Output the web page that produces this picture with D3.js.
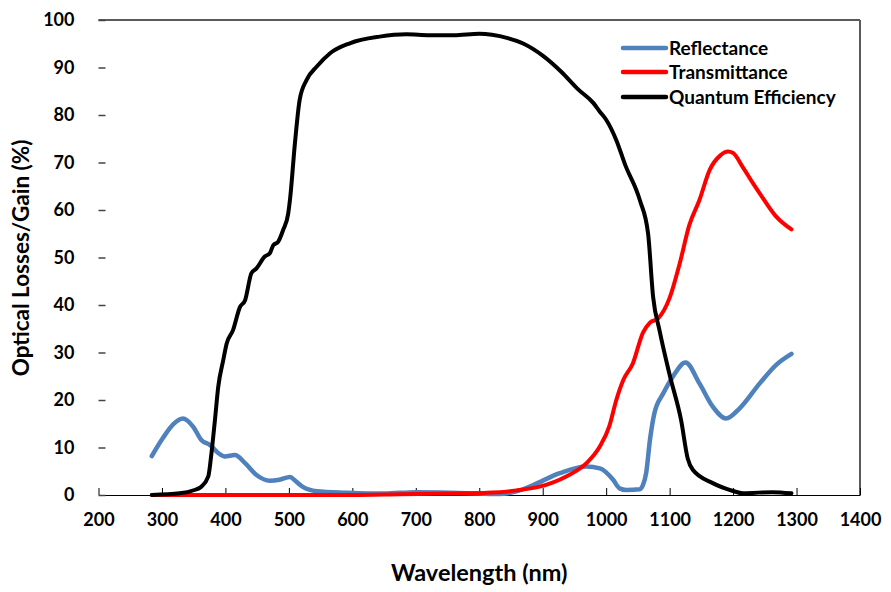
<!DOCTYPE html>
<html><head><meta charset="utf-8">
<script src="https://cdn.jsdelivr.net/npm/d3@7"></script>
<style>body{margin:0;background:#fff}svg{display:block}text{font-family:Lato,"Open Sans",sans-serif;font-weight:bold;fill:#000}</style>
</head><body>
<svg id="c" width="891" height="592"></svg>
<script>
const xTicks=[200,300,400,500,600,700,800,900,1000,1100,1200,1300,1400];
const yTicks=[0,10,20,30,40,50,60,70,80,90,100];
const seriesNames=["Reflectance","Transmittance","Quantum Efficiency"];
const seriesColors=["#4F81BD","#FF0000","#000000"];

const reflWl=[284,302,318,333,349,362,376,389,399,415,431,449,470,485,502,510,522,544,591,650,701,753,800,832,860,885,927,969,990,1011,1021,1032,1053,1058,1063,1069,1076,1090,1105,1125,1147,1168,1189,1210,1242,1268,1292];
const reflVal=[8.2,12.1,14.9,16.1,14.4,11.6,10.5,8.8,8.1,8.4,6.7,4.2,3.0,3.2,3.8,3.0,1.7,0.8,0.5,0.3,0.6,0.5,0.3,0.2,0.8,2.1,4.6,6.0,5.6,3.2,1.4,1.05,1.2,2.1,4.6,11.6,17.2,21.4,24.9,27.9,23.5,18.6,16.1,18.2,23.5,27.4,29.7];

const transWl=[284,400,500,600,675,750,832,860,895,937,969,990,1005,1016,1027,1042,1058,1069,1082,1100,1116,1131,1147,1163,1180,1192,1200,1215,1232,1247,1268,1292];
const transVal=[0,0,0,0,0.15,0.3,0.6,1.0,1.75,3.9,6.7,10.2,14.5,20,24.2,27.7,34.2,36.3,37.2,41.5,48.8,56.8,62.1,68.4,71.5,72.3,72,69.1,65.5,62.5,58.6,55.9];

const qeWl=[284,328,350,362,373,378,383.5,388.7,396.6,402,412,423,431,441,449,462,470,475.5,483,491,499,502,509.5,517,528,544,565,596,643,685,722,760,800,820,845,870,900,930,955,980,990,1000,1016,1030,1053,1066,1074,1084,1100,1118,1128.5,1136.5,1168,1200,1215,1240,1262,1292];
const qeVal=[0,0.35,1.0,1.75,3.9,8.8,15.8,22.8,28.4,31.9,34.7,39.6,41,46.7,47.7,50.2,50.9,52.6,53.3,55.8,59.3,62.5,74,83.2,87.4,90.2,93,95.1,96.5,97.0,96.8,96.8,97.1,96.9,96.2,95,92.5,89,85.5,82.5,80.7,79,74.7,69.5,62.1,55.1,41.7,34.7,25.3,15.8,7.7,5.3,2.5,0.85,0.35,0.5,0.6,0.35];

const svg=d3.select("#c");
const L=98.5,R=860,T=20,B=495;
const x=d3.scaleLinear().domain([200,1400]).range([L,R]);
const y=d3.scaleLinear().domain([0,100]).range([B,T]);

// frame
svg.append("line").attr("x1",L).attr("x2",R).attr("y1",T).attr("y2",T).attr("stroke","#5a5a5a").attr("stroke-width",2);
svg.append("line").attr("x1",R).attr("x2",R).attr("y1",T).attr("y2",B).attr("stroke","#5a5a5a").attr("stroke-width",2);

// axes
const xa=svg.append("g").attr("transform",`translate(0,${B})`)
  .call(d3.axisBottom(x).tickValues(xTicks).tickFormat(d3.format("d")).tickSizeInner(-7).tickSizeOuter(0).tickPadding(18));
xa.select(".domain").attr("stroke","#000").attr("stroke-width",1);
xa.selectAll(".tick line").attr("stroke","#000");
xa.selectAll("text").attr("font-size",18).attr("font-family","Lato").attr("font-weight","bold").attr("fill","#000");

const ya=svg.append("g").attr("transform",`translate(${L},0)`)
  .call(d3.axisLeft(y).tickValues(yTicks).tickFormat(d3.format("d")).tickSizeInner(-7).tickSizeOuter(0).tickPadding(24));
ya.select(".domain").remove();
ya.selectAll(".tick line").attr("stroke","#444").attr("stroke-width",1.5);
ya.selectAll("text").attr("font-size",18).attr("font-family","Lato").attr("font-weight","bold").attr("fill","#000");

// lines
const mk=(wl,v)=>wl.map((w,i)=>[w,v[i]]);
const data=[mk(reflWl,reflVal),mk(transWl,transVal),mk(qeWl,qeVal)];
const widths=[4.5,4,4];
const line=d3.line().x(d=>x(d[0])).y(d=>y(d[1])).curve(d3.curveMonotoneX);
data.forEach((d,i)=>{
  svg.append("path").datum(d).attr("d",line).attr("fill","none")
    .attr("stroke",seriesColors[i]).attr("stroke-width",widths[i]).attr("stroke-linejoin","round").attr("stroke-linecap","round");
});

// legend
const lg=svg.append("g");
const ly=[48,72,97];
seriesNames.forEach((n,i)=>{
  lg.append("line").attr("x1",623).attr("x2",666).attr("y1",ly[i]).attr("y2",ly[i])
    .attr("stroke",seriesColors[i]).attr("stroke-width",4.5).attr("stroke-linecap","round");
  lg.append("text").attr("x",669).attr("y",ly[i]+6.5).attr("font-size",19).text(n);
});

// titles
svg.append("text").attr("x",(L+R)/2).attr("y",581).attr("text-anchor","middle").attr("font-size",23.5).text("Wavelength (nm)");
svg.append("text").attr("transform","translate(29,258) rotate(-90)").attr("text-anchor","middle").attr("font-size",22.5).text("Optical Losses/Gain (%)");
</script>
</body></html>
